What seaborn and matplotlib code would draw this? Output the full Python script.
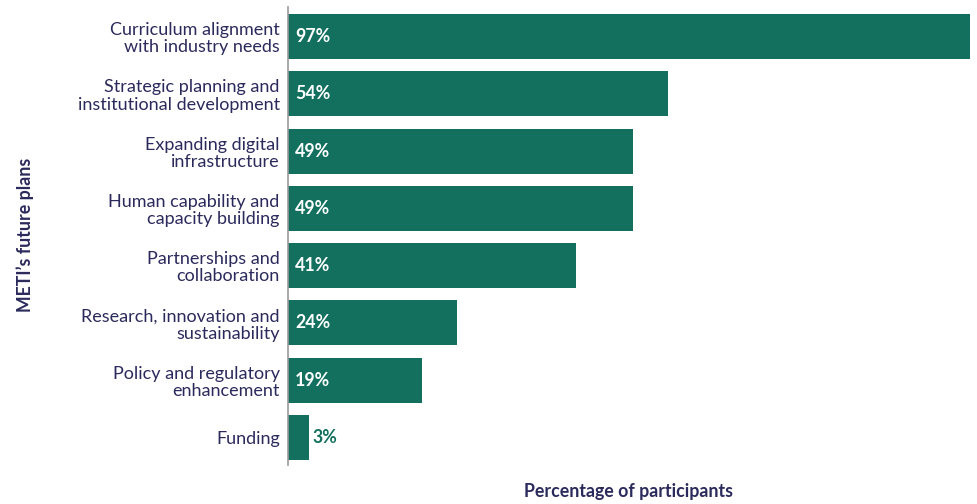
import matplotlib
matplotlib.use("Agg")
import matplotlib.pyplot as plt
import seaborn as sns
import pandas as pd

categories = [
    "Curriculum alignment\nwith industry needs",
    "Strategic planning and\ninstitutional development",
    "Expanding digital\ninfrastructure",
    "Human capability and\ncapacity building",
    "Partnerships and\ncollaboration",
    "Research, innovation and\nsustainability",
    "Policy and regulatory\nenhancement",
    "Funding",
]
values = [97, 54, 49, 49, 41, 24, 19, 3]

BAR = "#13705F"
TEXT = "#2B2A5C"

sns.set_theme(style="white")
plt.rcParams["font.family"] = ["Lato", "DejaVu Sans"]

df = pd.DataFrame({"plan": categories, "pct": values})

fig = plt.figure(figsize=(9.77, 5.04), dpi=100)
ax = fig.add_axes([288 / 977, 39 / 504, (970 - 288) / 977, (465 - 7) / 504])

sns.barplot(data=df, x="pct", y="plan", orient="h", color=BAR,
            saturation=1, width=0.785, linewidth=0, ax=ax)

ax.set_xlim(0, 97)
ax.set_ylim(len(values) - 1 + 0.48, -0.515)

for i, v in enumerate(values):
    if v >= 10:
        ax.annotate(f"{v}%", (0, i), xytext=(5, 0), textcoords="offset points",
                    ha="left", va="center", color="white", fontsize=12.8,
                    fontweight="bold")
    else:
        ax.annotate(f"{v}%", (v, i), xytext=(2.5, 0), textcoords="offset points",
                    ha="left", va="center", color=BAR, fontsize=12.8,
                    fontweight="bold")

ax.set_xticks([])
ax.tick_params(axis="y", length=0, pad=6, labelsize=13, labelcolor=TEXT)
for lbl in ax.get_yticklabels():
    lbl.set_linespacing(1.1)
for s in ["top", "right", "bottom"]:
    ax.spines[s].set_visible(False)
ax.spines["left"].set_color("#9A9A9A")
ax.spines["left"].set_linewidth(1.2)

ax.set_xlabel("")
ax.set_ylabel("")
fig.text(629 / 977, 1 - 492 / 504, "Percentage of participants", ha="center",
         va="center", fontsize=12.8, fontweight="bold", color=TEXT)
fig.text(25 / 977, 1 - 235 / 504, "METI\u2019s future plans", ha="center",
         va="center", rotation=90, fontsize=12.8, fontweight="bold", color=TEXT)

fig.savefig("out.png", dpi=100)
